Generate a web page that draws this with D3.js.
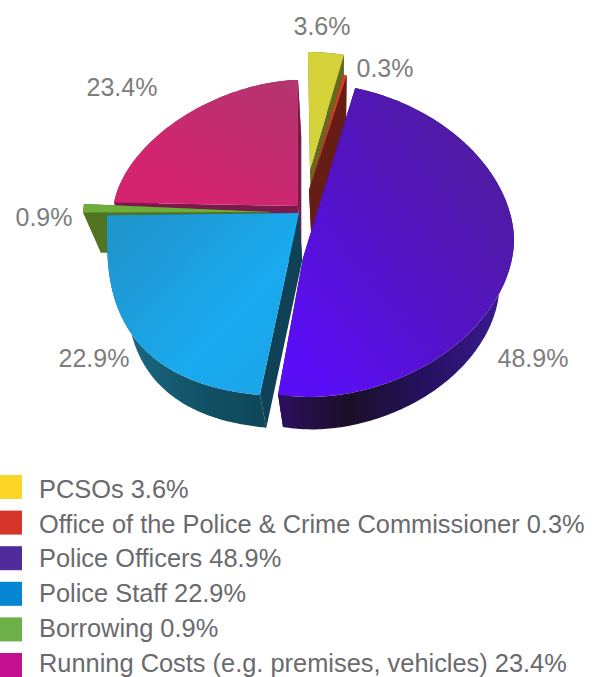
<!DOCTYPE html>
<html>
<head>
<meta charset="utf-8">
<script src="https://cdn.jsdelivr.net/npm/d3@7"></script>
<style>
  html, body { margin: 0; padding: 0; background: #fff; }
  svg { display: block; }
  text { font-family: "Liberation Sans", Arial, sans-serif; }
</style>
</head>
<body>
<div id="chart"></div>
<script>
// Spending shares, in drawing order around the pie (clockwise from 12 o'clock)
const categories = ["PCSOs", "Office of the Police & Crime Commissioner", "Police Officers",
                    "Police Staff", "Borrowing", "Running Costs (e.g. premises, vehicles)"];
const shares = [3.6, 0.3, 48.9, 22.9, 0.9, 23.4];
const legendColours = ["#fbd626", "#d5352b", "#4f2b9b", "#0585d2", "#6cb047", "#c2108f"];

// Exploded-slice geometry on screen: outline centre, radii, squareness, and apex
const outlineCx = [308, 309, 310, 316, 270, 298];
const outlineCy = [170, 190, 240, 231, 219, 212];
const radiusX   = [160, 155, 204, 209, 187, 185];
const radiusY   = [118, 118, 157, 166, 150, 132];
const squareness = [2, 2, 1.88, 2.65, 2, 1.75];
const apexX = [310, 309, 303, 299, 270, 298];
const apexY = [170, 190, 258, 213, 212, 206];

// Label positions, one per slice
const labelX = [322, 385, 533, 94, 44, 122];
const labelY = [26, 68, 358, 358, 217, 87];

// Extrusion: each underside is the top face scaled towards a vanishing point
const depthScale = [0.9175, 0.9175, 0.9175, 0.9175, 0.93, 0.9175];
const vanishX = 338, vanishY = 790;

// Paint order runs from the back of the pie to the front
const paintOrder = [0, 1, 5, 4, 2, 3];

const topFill  = ["#d6d33a", "#e23c27", "url(#topOfficers)", "url(#topStaff)", "#6cae39", "url(#topRunning)"];
const sideFill = ["#66691f", "#661d16", "#241040", "#0f4257", "#50741f", "#7a1a4a"];
const wallFill = ["#66691f", "#661d16", "url(#wallOfficers)", "url(#wallStaff)", "#50741f", "#7a1a4a"];

const width = 599, height = 677;
const svg = d3.select("#chart").append("svg").attr("width", width).attr("height", height);
const defs = svg.append("defs");

function linearGradient(id, x1, y1, x2, y2, stops) {
  const g = defs.append("linearGradient").attr("id", id).attr("gradientUnits", "userSpaceOnUse")
    .attr("x1", x1).attr("y1", y1).attr("x2", x2).attr("y2", y2);
  stops.forEach(([o, c]) => g.append("stop").attr("offset", o).attr("stop-color", c));
}
linearGradient("topOfficers", 290, 340, 510, 170, [[0, "#5a0ef6"], [0.45, "#5412c8"], [1, "#4f1ca0"]]);
linearGradient("topStaff", 130, 230, 270, 360, [[0, "#2096cf"], [0.7, "#19aaef"], [1, "#1ba6ea"]]);
linearGradient("topRunning", 290, 90, 220, 210, [[0, "#b6346f"], [1, "#d4246f"]]);
linearGradient("wallOfficers", 283, 0, 505, 0, [[0, "#2c0f5c"], [0.3, "#1a0f26"], [0.6, "#24105a"], [1, "#3a1a94"]]);
linearGradient("wallStaff", 125, 0, 270, 0, [[0, "#1a6a85"], [0.5, "#125266"], [1, "#0f4558"]]);

const slices = d3.pie().sort(null).value(d => d)(shares);
const line = d3.line();

// Superellipse outline point for a pie angle (0 at the top, clockwise)
function outlinePoint(i, angle) {
  const e = 2 / squareness[i];
  const s = Math.sin(angle), c = Math.cos(angle);
  return [
    outlineCx[i] + radiusX[i] * Math.sign(s) * Math.pow(Math.abs(s), e),
    outlineCy[i] - radiusY[i] * Math.sign(c) * Math.pow(Math.abs(c), e)
  ];
}

const pieGroup = svg.append("g");
paintOrder.forEach(i => {
  const slice = slices[i];
  const underside = ([x, y]) => [vanishX + (x - vanishX) * depthScale[i], vanishY + (y - vanishY) * depthScale[i]];
  const steps = Math.max(8, Math.ceil((slice.endAngle - slice.startAngle) * 60));
  const arc = d3.range(steps + 1).map(k =>
    outlinePoint(i, slice.startAngle + (slice.endAngle - slice.startAngle) * k / steps));
  const apex = [apexX[i], apexY[i]];
  const first = arc[0], last = arc[arc.length - 1];
  const g = pieGroup.append("g");

  g.append("path").attr("d", line([apex, first, underside(first), underside(apex)]) + "Z").attr("fill", sideFill[i]);
  g.append("path").attr("d", line([apex, last, underside(last), underside(apex)]) + "Z").attr("fill", sideFill[i]);
  g.append("path").attr("d", line(arc.concat(arc.map(underside).reverse())) + "Z").attr("fill", wallFill[i]);
  g.append("path").attr("d", line([apex].concat(arc)) + "Z").attr("fill", topFill[i]);
});

// Percentage labels beside the slices
svg.append("g").selectAll("text").data(shares).join("text")
  .attr("x", (d, i) => labelX[i])
  .attr("y", (d, i) => labelY[i])
  .attr("dy", "0.36em")
  .attr("text-anchor", "middle")
  .attr("font-size", 25)
  .attr("fill", "#7d7d7d")
  .text(d => d.toFixed(1) + "%");

// Legend rows
const rowY = d3.scaleLinear().domain([0, categories.length - 1]).range([487, 665]);
const baselineY = d3.scaleLinear().domain([0, categories.length - 1]).range([498, 671.5]);
const legend = svg.append("g");
legend.selectAll("rect").data(categories).join("rect")
  .attr("x", 0).attr("y", (d, i) => rowY(i) - 12).attr("width", 22).attr("height", 24)
  .attr("fill", (d, i) => legendColours[i]);
legend.selectAll("text").data(categories).join("text")
  .attr("x", 39).attr("y", (d, i) => baselineY(i))
  .attr("font-size", 25.4)
  .attr("fill", "#6a6a6e")
  .text((d, i) => `${d} ${shares[i].toFixed(1)}%`);
</script>
</body>
</html>
